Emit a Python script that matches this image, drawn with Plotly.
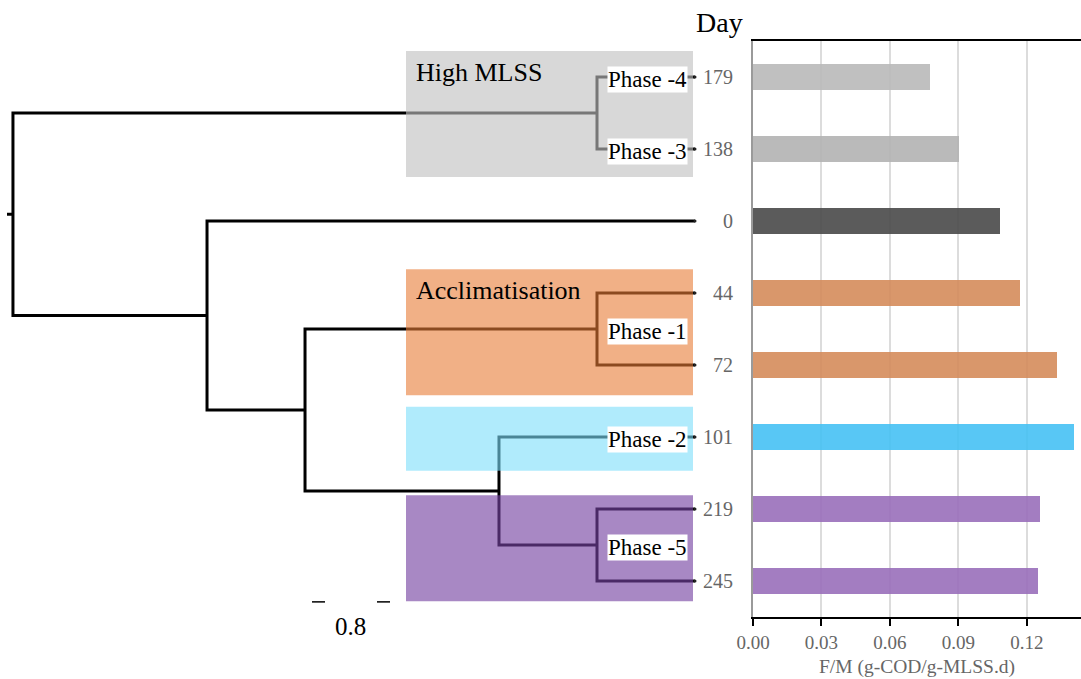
import plotly.graph_objects as go

# ---------------- data ----------------
days = ["179", "138", "0", "44", "72", "101", "219", "245"]
fm_values = [0.0775, 0.0902, 0.1082, 0.1170, 0.1332, 0.1406, 0.1257, 0.1248]
bar_colors = ["#bababa", "#b3b3b3", "#4a4a4a", "#d58c5c", "#d58c5c", "#46c2f4", "#9a6fbb", "#9a6fbb"]

# dendrogram: node -> (height, left child, right child); leaves are day strings
tree = {
    "A": (1.153, "179", "138"),
    "B": (1.153, "44", "72"),
    "C": (1.153, "219", "245"),
    "D": (2.306, "101", "C"),
    "E": (4.588, "B", "D"),
    "F": (5.741, "0", "E"),
    "R": (8.024, "A", "F"),
}
root_stub = 0.07
scale_bar_label = "0.8"

# groups: (label, top, bottom, fill colour, alpha)
groups = [
    ("High MLSS", -0.36, 1.39, "rgb(192,192,192)", 0.62),
    ("Acclimatisation", 2.67, 4.42, "rgb(232,123,53)", 0.60),
    ("", 4.58, 5.47, "rgb(123,222,250)", 0.60),
    ("", 5.81, 7.28, "rgb(117,67,162)", 0.63),
]
phase_labels = [("Phase -4", "179"), ("Phase -3", "138"), ("Phase -1", "B"),
                ("Phase -2", "101"), ("Phase -5", "C")]

SERIF = "Times New Roman, Liberation Serif, serif"

# ---------------- geometry helpers ----------------
W, H = 1081, 679
PX_PER_UNIT = 85.0
LEAF_PX = 695.0
X2_RIGHT_PX = 700.0
h_left = LEAF_PX / PX_PER_UNIT
h_right = h_left - X2_RIGHT_PX / PX_PER_UNIT


def px2h(px):
    return (LEAF_PX - px) / PX_PER_UNIT


leaf_y = {d: i for i, d in enumerate(days)}
pos = {}


def node_pos(n):
    if n in leaf_y:
        return 0.0, float(leaf_y[n])
    if n in pos:
        return pos[n]
    h, a, b = tree[n]
    ya = node_pos(a)[1]
    yb = node_pos(b)[1]
    pos[n] = (h, (ya + yb) / 2)
    return pos[n]


for n in tree:
    node_pos(n)

xs, ys = [], []
for n, (h, a, b) in tree.items():
    ha, ya = node_pos(a)
    hb, yb = node_pos(b)
    xs += [ha, h, h, hb, None]
    ys += [ya, ya, yb, yb, None]
rh, ry = node_pos("R")
xs += [rh, rh + root_stub, None]
ys += [ry, ry, None]

fig = go.Figure()

fig.add_trace(go.Scatter(
    x=xs, y=ys, xaxis="x2", yaxis="y", mode="lines",
    line=dict(color="black", width=3), hoverinfo="skip", showlegend=False,
))
fig.add_trace(go.Scatter(
    x=[0.0] * len(days), y=list(range(len(days))), xaxis="x2", yaxis="y",
    mode="markers", marker=dict(color="#222", size=3, symbol="circle"),
    cliponaxis=False, hoverinfo="skip", showlegend=False,
))

fig.add_trace(go.Bar(
    x=fm_values, y=list(range(len(days))), orientation="h",
    marker=dict(color=bar_colors, line=dict(width=0)), opacity=0.9,
    width=0.36, xaxis="x", yaxis="y", showlegend=False,
))

shapes = []
annotations = []
box_left = px2h(406)
box_right = px2h(693)
for label, top, bot, col, alpha in groups:
    shapes.append(dict(type="rect", xref="x2", yref="y", x0=box_left, x1=box_right,
                       y0=top, y1=bot, fillcolor=col, opacity=alpha,
                       line=dict(width=0), layer="above"))
    if label:
        annotations.append(dict(text=label, xref="x2", yref="y",
                                x=px2h(414), y=top + 0.3,
                                xanchor="left", yanchor="middle", showarrow=False,
                                font=dict(family=SERIF, size=26, color="black")))

for text, node in phase_labels:
    h, y = node_pos(node)
    annotations.append(dict(text=text, xref="x2", yref="y",
                            x=px2h(607), y=y, yshift=-2,
                            xanchor="left", yanchor="middle", showarrow=False,
                            bgcolor="white", borderpad=0,
                            font=dict(family=SERIF, size=23, color="black")))

# scale bar (end marks + label)
sb_y = 7.29
for a, b in ((312, 325), (377, 390)):
    shapes.append(dict(type="line", xref="x2", yref="y", x0=px2h(a), x1=px2h(b),
                       y0=sb_y, y1=sb_y, line=dict(color="black", width=1.5)))
annotations.append(dict(text=scale_bar_label, xref="x2", yref="paper",
                        x=px2h(350), y=-0.016, xanchor="center",
                        yanchor="middle", showarrow=False,
                        font=dict(family=SERIF, size=25, color="black")))

annotations.append(dict(text="Day", xref="paper", yref="paper", x=719 / W, y=1.0,
                        yshift=19, xanchor="center", yanchor="middle", showarrow=False,
                        font=dict(family=SERIF, size=28, color="black")))

fig.update_layout(
    width=W, height=H,
    margin=dict(l=0, r=0, t=41, b=62, pad=0),
    paper_bgcolor="white", plot_bgcolor="white",
    font=dict(family=SERIF, color="#666"),
    bargap=0,
    xaxis=dict(domain=[753 / W, 1.0], range=[0, 0.1437], tickvals=[0, 0.03, 0.06, 0.09, 0.12],
               ticktext=["0.00", "0.03", "0.06", "0.09", "0.12"],
               showgrid=True, gridcolor="#dcdcdc", gridwidth=1.5, zeroline=False,
               showline=True, linecolor="black", linewidth=1.5, mirror=True,
               ticks="outside", ticklen=7, tickwidth=1.5, tickcolor="black",
               tickfont=dict(family=SERIF, size=19, color="#666"),
               title=dict(text="F/M (g-COD/g-MLSS.d)", font=dict(family=SERIF, size=19.5, color="#666"),
                          standoff=8),
               anchor="y", automargin=False, fixedrange=True),
    xaxis2=dict(domain=[0, X2_RIGHT_PX / W], range=[h_left, h_right], visible=False,
                anchor="y", automargin=False, fixedrange=True),
    yaxis=dict(range=[len(days) - 0.5, -0.5], tickvals=list(range(len(days))), ticktext=days,
               showgrid=False, zeroline=False, showline=True, linecolor="#9a9a9a", linewidth=2,
               ticks="", ticklabelstandoff=14, tickfont=dict(family=SERIF, size=20, color="#666"),
               anchor="x", automargin=False, fixedrange=True),
    shapes=shapes,
    annotations=annotations,
)

fig.write_html("out.html")
